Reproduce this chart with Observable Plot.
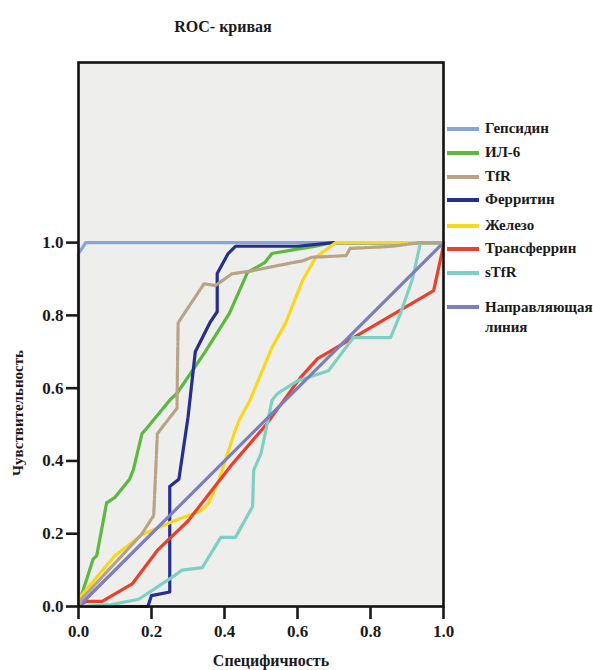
<!DOCTYPE html>
<html>
<head>
<meta charset="utf-8">
<script src="https://cdn.jsdelivr.net/npm/d3@7"></script>
<script src="https://cdn.jsdelivr.net/npm/@observablehq/plot@0.6"></script>
<style>
  html, body { margin: 0; padding: 0; background: #fff; }
  #wrap { position: relative; width: 593px; height: 670px; font-family: "Liberation Serif", "Times New Roman", Tinos, Times, "DejaVu Serif", serif; font-weight: bold; color: #1a1a1a; }
  #wrap svg { position: absolute; left: 0; top: 0; }
  .t { position: absolute; white-space: nowrap; }
  .leg { position: absolute; left: 447px; font-size: 15px; }
  .leg .sw { position: absolute; left: 0; width: 32px; height: 3.5px; }
  .leg .lb { position: absolute; left: 38px; line-height: 17px; white-space: nowrap; }
</style>
</head>
<body>
<div id="wrap"></div>
<script>
// ---- data ----
const seriesNames = ["Гепсидин", "ИЛ-6", "TfR", "Ферритин", "Железо", "Трансферрин", "sTfR", "Направляющая линия"];
const seriesColors = ["#86a6da", "#5cb83f", "#b8a385", "#252f8e", "#f9d71c", "#e9402b", "#80cfc3", "#7c7ec2"];

const hepcidinX = [0, 0, 0.02, 1];
const hepcidinY = [0, 0.97, 1, 1];

const il6X = [0, 0.008, 0.04, 0.05, 0.077, 0.10, 0.14, 0.15, 0.174, 0.187, 0.25, 0.27, 0.347, 0.413, 0.463, 0.51, 0.53, 0.587, 0.65, 0.69, 1];
const il6Y = [0, 0.03, 0.13, 0.14, 0.285, 0.30, 0.35, 0.375, 0.475, 0.49, 0.567, 0.586, 0.70, 0.805, 0.918, 0.945, 0.97, 0.98, 0.99, 1, 1];

const tfrX = [0, 0.008, 0.11, 0.174, 0.206, 0.216, 0.27, 0.27, 0.273, 0.344, 0.375, 0.42, 0.477, 0.587, 0.614, 0.64, 0.733, 0.744, 0.862, 0.935, 1];
const tfrY = [0, 0.02, 0.13, 0.2, 0.25, 0.475, 0.545, 0.567, 0.78, 0.887, 0.882, 0.914, 0.923, 0.945, 0.95, 0.96, 0.964, 0.984, 0.99, 1, 1];

const ferritinX = [0, 0.19, 0.2, 0.25, 0.25, 0.275, 0.30, 0.32, 0.36, 0.38, 0.38, 0.41, 0.43, 0.6, 0.7, 1];
const ferritinY = [0, 0, 0.03, 0.04, 0.33, 0.35, 0.52, 0.70, 0.78, 0.81, 0.915, 0.97, 0.99, 0.99, 1, 1];

const ironX = [0, 0.008, 0.10, 0.174, 0.256, 0.32, 0.339, 0.357, 0.385, 0.408, 0.43, 0.44, 0.47, 0.53, 0.567, 0.614, 0.65, 0.705, 0.935, 1];
const ironY = [0, 0.03, 0.14, 0.197, 0.233, 0.257, 0.266, 0.285, 0.348, 0.42, 0.485, 0.512, 0.567, 0.712, 0.778, 0.896, 0.96, 1, 1, 1];

const transferrinX = [0, 0.02, 0.065, 0.148, 0.216, 0.30, 0.416, 0.512, 0.608, 0.655, 0.764, 0.973, 0.997, 1];
const transferrinY = [0, 0.014, 0.014, 0.063, 0.154, 0.235, 0.385, 0.497, 0.629, 0.681, 0.745, 0.868, 0.978, 1];

const stfrX = [0, 0.09, 0.165, 0.256, 0.284, 0.339, 0.39, 0.43, 0.477, 0.48, 0.5, 0.53, 0.545, 0.6, 0.685, 0.753, 0.855, 0.882, 0.915, 0.937, 1];
const stfrY = [0, 0.005, 0.02, 0.08, 0.10, 0.107, 0.19, 0.19, 0.275, 0.375, 0.42, 0.566, 0.585, 0.62, 0.648, 0.739, 0.739, 0.805, 0.90, 1, 1];

const refX = [0, 1];
const refY = [0, 1];

const xTicks = [0, 0.2, 0.4, 0.6, 0.8, 1.0];
const yTicks = [0, 0.2, 0.4, 0.6, 0.8, 1.0];

const titleText = "ROC- кривая";
const xLabel = "Специфичность";
const yLabel = "Чувствительность";

// ---- build table ----
const allX = [hepcidinX, il6X, tfrX, ferritinX, ironX, transferrinX, stfrX, refX];
const allY = [hepcidinY, il6Y, tfrY, ferritinY, ironY, transferrinY, stfrY, refY];
const rows = [];
allX.forEach((xs, i) => xs.forEach((x, j) => rows.push({series: seriesNames[i], x, y: allY[i][j]})));

const font = "'Liberation Serif', 'Times New Roman', Tinos, Times, 'DejaVu Serif', serif";
const chart = Plot.plot({
  width: 593,
  height: 670,
  marginLeft: 78,
  marginRight: 150,
  marginTop: 62,
  marginBottom: 64,
  style: {fontFamily: font, fontWeight: "bold", fontSize: "17px", background: "transparent", color: "#1a1a1a"},
  x: {domain: [0, 1]},
  y: {domain: [0, 1.495]},
  color: {domain: seriesNames, range: seriesColors},
  marks: [
    Plot.frame({fill: "#eeefec", stroke: null}),
    Plot.line(rows.filter(d => d.series !== "TfR"), {x: "x", y: "y", z: "series", stroke: "series", strokeWidth: 3.2, strokeLinejoin: "round", strokeLinecap: "round"}),
    Plot.line(rows.filter(d => d.series === "TfR"), {x: "x", y: "y", stroke: "series", strokeWidth: 3.2, strokeDasharray: "14,2,2,2"}),
    Plot.frame({stroke: "#111", strokeWidth: 2.6}),
    Plot.axisX({ticks: xTicks, tickFormat: ".1f", tickSize: 13, tickPadding: 5, strokeWidth: 2.6, label: null, fontSize: 17, fontFamily: font, fontWeight: "bold"}),
    Plot.axisY({ticks: yTicks, tickFormat: ".1f", tickSize: 12, tickPadding: 3, strokeWidth: 2.6, label: null, fontSize: 17, fontFamily: font, fontWeight: "bold"})
  ]
});

const wrap = document.getElementById("wrap");
wrap.appendChild(chart);

function addText(txt, css) {
  const d = document.createElement("div");
  d.className = "t";
  d.textContent = txt;
  Object.assign(d.style, css);
  wrap.appendChild(d);
  return d;
}
addText(titleText, {left: "223px", top: "27px", fontSize: "16px", transform: "translate(-50%,-50%)"});
addText(xLabel, {left: "271px", top: "661px", fontSize: "16px", transform: "translate(-50%,-50%)"});
addText(yLabel, {left: "18px", top: "413px", fontSize: "15px", transform: "translate(-50%,-50%) rotate(-90deg)"});

// legend
const legY = [129, 153, 177, 200, 226, 249, 273, 307];
seriesNames.forEach((name, i) => {
  const item = document.createElement("div");
  item.className = "leg";
  item.style.top = legY[i] + "px";
  const sw = document.createElement("div");
  sw.className = "sw";
  sw.style.background = seriesColors[i];
  sw.style.top = "-1.75px";
  item.appendChild(sw);
  const lb = document.createElement("div");
  lb.className = "lb";
  lb.style.top = "-9px";
  if (name === "Направляющая линия") {
    lb.innerHTML = "Направляющая<br>линия";
    lb.style.lineHeight = "20px";
    lb.style.top = "-10px";
  } else {
    lb.textContent = name;
  }
  item.appendChild(lb);
  wrap.appendChild(item);
});
</script>
</body>
</html>
